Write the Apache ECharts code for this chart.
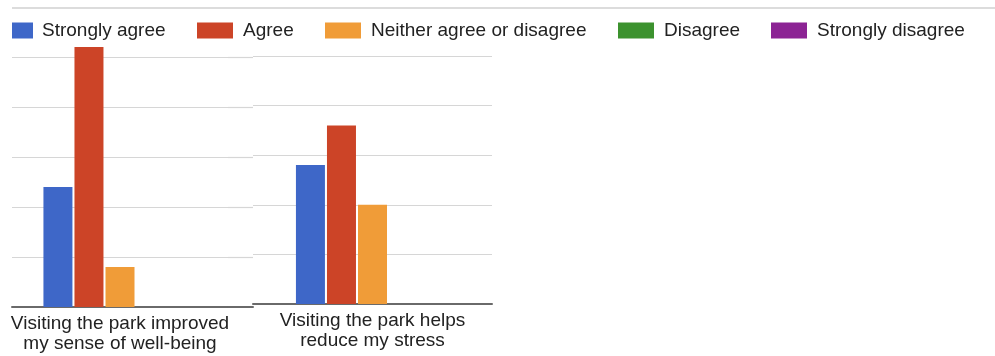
<!DOCTYPE html>
<html>
<head>
<meta charset="utf-8">
<script src="https://cdn.jsdelivr.net/npm/echarts@6/dist/echarts.min.js"></script>
<style>
  html, body { margin: 0; padding: 0; background: #fff; }
  #chart { width: 995px; height: 356px; }
</style>
</head>
<body>
<div id="chart"></div>
<script>
// Survey statements (one per panel)
const categories = [
  'Visiting the park improved\nmy sense of well-being',
  'Visiting the park helps\nreduce my stress'
];
// Response options
const responses = ['Strongly agree', 'Agree', 'Neither agree or disagree', 'Disagree', 'Strongly disagree'];
// Counts per statement
const stronglyAgree = [12, 14];
const agree = [26, 18];
const neither = [4, 10];
const disagree = [0, 0];
const stronglyDisagree = [0, 0];
const valueSets = [stronglyAgree, agree, neither, disagree, stronglyDisagree];

const colors = ['#3e67c8', '#cc4427', '#f09c38', '#3c922e', '#8c2394'];
const textColor = '#222';
const fontFamily = 'Liberation Sans, Arial, sans-serif';

// Panel geometry
const panels = [
  { left: 12, width: 216, top: 47, height: 260 },
  { left: 253, width: 239, top: 46, height: 258 }
];
const yMax = 26;

const grids = panels.map(p => ({ left: p.left, top: p.top, width: p.width, height: p.height }));
// gridline extension to the right of the first panel
grids.push({ left: 228, top: 47, width: 25, height: 260 });

const yAxisBase = gi => ({
  type: 'value', gridIndex: gi, min: 0, max: yMax, interval: 5,
  axisLabel: { show: false }, axisLine: { show: false }, axisTick: { show: false },
  splitLine: { show: true, showMinLine: false, showMaxLine: false, lineStyle: { color: '#d6d6d6', width: 1.2 } }
});

const xAxes = [0, 1].map(i => ({
  type: 'category', gridIndex: i, data: [categories[i]],
  axisTick: { show: false },
  axisLine: { show: true, lineStyle: { color: '#6a6a6a', width: 2 } },
  axisLabel: { color: textColor, fontSize: 19, lineHeight: 20, fontFamily, margin: 7, interval: 0 }
}));
xAxes.push({
  type: 'category', gridIndex: 2, data: [''],
  axisTick: { show: false }, axisLabel: { show: false },
  axisLine: { show: true, lineStyle: { color: '#6a6a6a', width: 2 } }
});

const series = [];
[0, 1].forEach(gi => {
  responses.forEach((name, k) => {
    series.push({
      name, type: 'bar', xAxisIndex: gi, yAxisIndex: gi,
      data: [valueSets[k][gi]],
      barWidth: 29, barGap: '7%',
      itemStyle: { color: colors[k] },
      emphasis: { disabled: true }
    });
  });
});

// One legend per item so each entry sits at its own spot
const legendLefts = [12, 197, 325, 618, 771];
const legends = responses.map((name, k) => ({
  left: legendLefts[k], top: 21, padding: 0,
  itemWidth: k === 0 ? 21 : 36, itemHeight: 16,
  icon: 'rect',
  selectedMode: false,
  data: [name],
  textStyle: { color: textColor, fontSize: 19, fontFamily, padding: [0, 0, 0, k === 0 ? 4 : 5] }
}));

const chart = echarts.init(document.getElementById('chart'), null, { renderer: 'canvas' });
chart.setOption({
  animation: false,
  color: colors,
  grid: grids,
  xAxis: xAxes,
  yAxis: [yAxisBase(0), yAxisBase(1), yAxisBase(2)],
  legend: legends,
  series,
  graphic: [{
    type: 'line', silent: true,
    shape: { x1: 12, y1: 8, x2: 995, y2: 8 },
    style: { stroke: '#d0d0d0', lineWidth: 1.5 }
  }]
});
</script>
</body>
</html>
